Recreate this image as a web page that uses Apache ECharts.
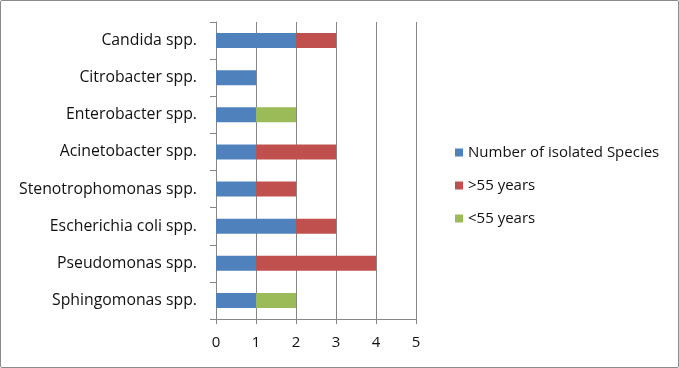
<!DOCTYPE html>
<html>
<head>
<meta charset="utf-8">
<script src="https://cdn.jsdelivr.net/npm/echarts@6/dist/echarts.min.js"></script>
<style>
  html, body { margin: 0; padding: 0; background: #fff; }
  .frame {
    position: absolute; left: 0; top: 0;
    width: 677px; height: 366px;
    border: 1px solid #8a8a8a; border-radius: 2px;
  }
  .canvas { position: absolute; left: 0; top: 0; width: 679px; height: 368px; }
</style>
</head>
<body>
<div class="frame"></div>
<div class="canvas" id="chart"></div>
<script>
// categories listed bottom to top
const categories = [
  'Sphingomonas spp.',
  'Pseudomonas spp.',
  'Escherichia coli spp.',
  'Stenotrophomonas spp.',
  'Acinetobacter spp.',
  'Enterobacter spp.',
  'Citrobacter spp.',
  'Candida spp.'
]
const isolated = [1, 1, 2, 1, 1, 1, 1, 2]
const over55 = [0, 3, 1, 1, 2, 0, 0, 1]
const under55 = [1, 0, 0, 0, 0, 1, 0, 0]
const xTicks = [0, 1, 2, 3, 4, 5]

const font = 'Open Sans'

const chart = echarts.init(document.getElementById('chart'))
chart.setOption({
  animation: false,
  textStyle: { fontFamily: font },
  grid: {
    left: 216,
    right: 263,
    top: 22,
    bottom: 49,
    containLabel: false
  },
  legend: {
    orient: 'vertical',
    left: 450,
    top: 140,
    itemWidth: 8,
    itemHeight: 8,
    itemGap: 18,
    icon: 'rect',
    textStyle: { color: '#111', fontSize: 15, fontFamily: font },
    data: ['Number of isolated Species', '>55 years', '<55 years']
  },
  xAxis: {
    type: 'value',
    min: xTicks[0],
    max: xTicks[xTicks.length - 1],
    interval: 1,
    axisLine: { show: true, lineStyle: { color: '#868686' } },
    axisTick: { show: true, length: 5, lineStyle: { color: '#868686' } },
    axisLabel: { color: '#111', fontSize: 15, margin: 16 },
    splitLine: { show: true, lineStyle: { color: '#868686', width: 1 } }
  },
  yAxis: {
    type: 'category',
    data: categories,
    axisLine: { show: true, lineStyle: { color: '#868686' } },
    axisTick: { show: true, length: 6, lineStyle: { color: '#868686' } },
    axisLabel: { color: '#111', fontSize: 15.8, margin: 19 }
  },
  series: [
    {
      name: 'Number of isolated Species',
      type: 'bar',
      stack: 'total',
      barWidth: 15,
      itemStyle: { color: '#4F81BD' },
      data: isolated
    },
    {
      name: '>55 years',
      type: 'bar',
      stack: 'total',
      barWidth: 15,
      itemStyle: { color: '#C0504D' },
      data: over55
    },
    {
      name: '<55 years',
      type: 'bar',
      stack: 'total',
      barWidth: 15,
      itemStyle: { color: '#9BBB59' },
      data: under55
    }
  ]
})
</script>
</body>
</html>
